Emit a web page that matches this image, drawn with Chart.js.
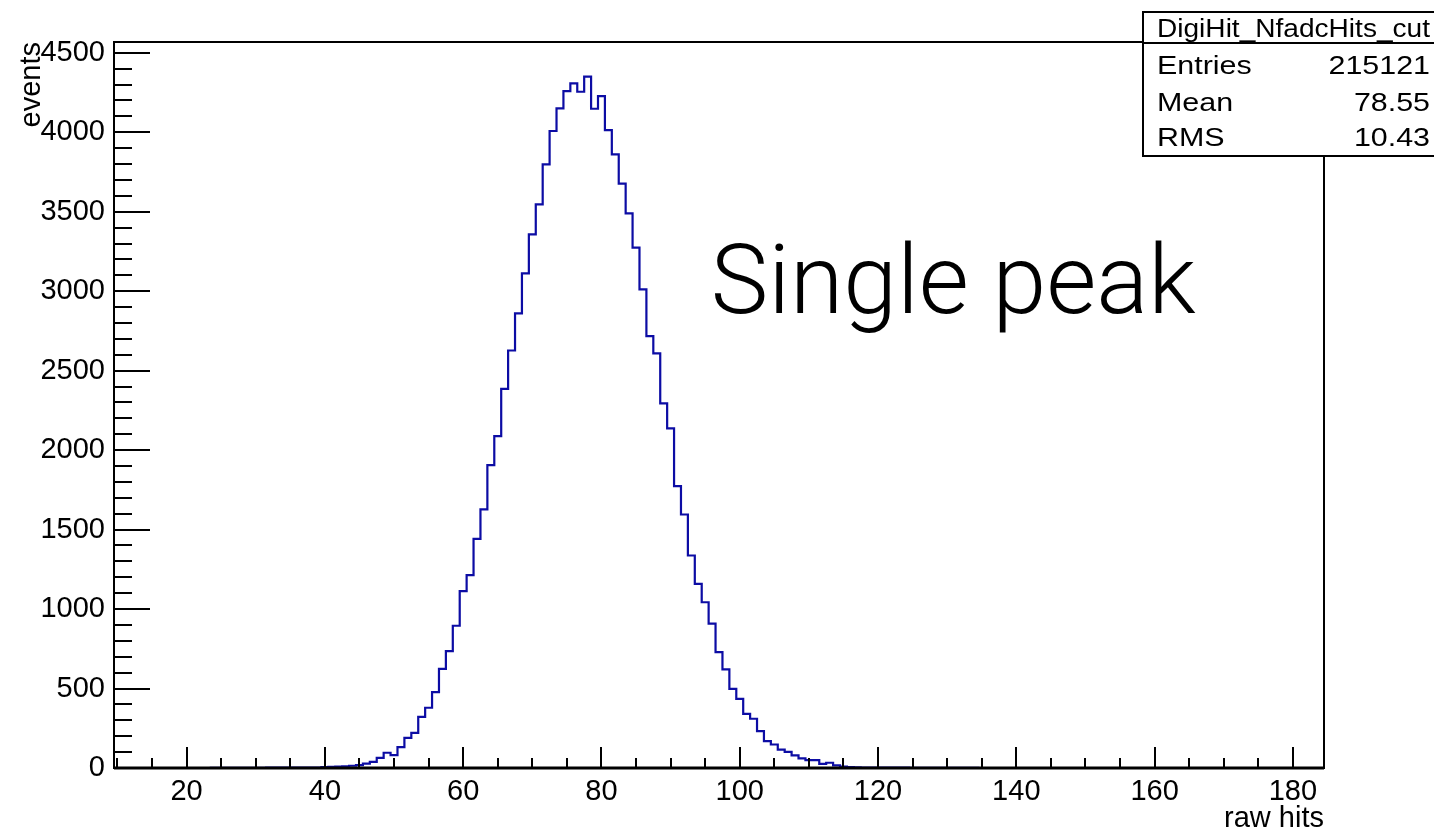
<!DOCTYPE html>
<html>
<head>
<meta charset="utf-8">
<script src="https://cdn.jsdelivr.net/npm/chart.js@4"></script>
<style>
  html, body { margin: 0; padding: 0; background: #fff; }
  #wrap { width: 1434px; height: 833px; position: relative; }
</style>
</head>
<body>
<div id="wrap"><canvas id="histo"></canvas></div>
<script>
// DigiHit_NfadcHits_cut, 1-wide bins, first bin starts at 9.5
const binStart = 9.5;
const binWidth = 1;
const counts = [
  0, 0, 0, 0, 0, 0, 0, 0, 0, 0, 0, 0, 0, 0, 0,            // 10-24
  1, 1, 1, 1, 1, 1, 1, 1,                                 // 25-32
  2, 2, 2, 2, 2, 3, 3, 3,                                 // 33-40
  5, 7, 9, 11, 14, 18, 28, 39, 64,                        // 41-49
  96, 81, 131, 190, 221, 322, 379, 477, 624, 735,         // 50-59
  895, 1113, 1213, 1442, 1627, 1906, 2088, 2386, 2627, 2860,
  3112, 3357, 3546, 3798, 4008, 4150, 4259, 4308, 4255, 4350,
  4148, 4228, 4014, 3861, 3677, 3490, 3274, 3011, 2717, 2609,
  2294, 2137, 1774, 1595, 1337, 1159, 1043, 909, 729, 620,
  498, 435, 341, 310, 232, 169, 148, 116, 102, 79,
  60, 49, 49, 26, 33, 16, 9, 6, 4, 3,
  3, 2, 2, 2, 2, 2, 1, 1, 1, 1,
  1, 1, 1, 1, 1, 1, 0, 0, 0, 0,                           // 130-139
  0, 0, 0, 0, 0, 0, 0, 0, 0, 0, 0, 0, 0, 0, 0,            // 140-154
  0, 0, 0, 0, 0, 0, 0, 0, 0, 0, 0, 0, 0, 0, 0,            // 155-169
  0, 0, 0, 0, 0, 0, 0, 0, 0, 0, 0, 0, 0, 0, 0             // 170-184
];
const xRange = [9.5, 184.5];
const yRange = [0, 4568];
const xTicks = [20, 40, 60, 80, 100, 120, 140, 160, 180];
const yTicks = [0, 500, 1000, 1500, 2000, 2500, 3000, 3500, 4000, 4500];
const xMinorStep = 5;
const yMinorStep = 100;
const xLabel = "raw hits";
const yLabel = "events";
const statsTitle = "DigiHit_NfadcHits_cut";
const statsNames = ["Entries", "Mean", "RMS"];
const statsValues = ["215121", "78.55", "10.43"];
const note = { text: "Single peak", x: 95.8, y: 2860 };

const FONT = "'Liberation Sans', Arial, Helvetica, sans-serif";

// outline points at the low edge of every bin (+ closing edge)
const points = counts.map((c, i) => ({ x: binStart + i * binWidth, y: c }));
points.push({ x: binStart + counts.length * binWidth, y: counts[counts.length - 1] });

// ROOT style frame, inward ticks, stats box, text note
const rootStyle = {
  id: "rootStyle",
  afterDatasetsDraw(chart) {
    const { ctx, chartArea: a, scales: { x, y } } = chart;
    ctx.save();
    ctx.strokeStyle = "#000";
    ctx.lineWidth = 2;
    ctx.strokeRect(a.left, a.top, a.right - a.left, a.bottom - a.top);
    ctx.lineWidth = 3;
    ctx.beginPath();
    ctx.moveTo(a.left, a.bottom);
    ctx.lineTo(a.right, a.bottom);
    ctx.stroke();

    ctx.lineWidth = 2;
    for (let v = 0; v <= y.max; v += yMinorStep) {
      const py = Math.round(y.getPixelForValue(v));
      const len = v % 500 === 0 ? 36 : 18;
      ctx.beginPath();
      ctx.moveTo(a.left, py);
      ctx.lineTo(a.left + len, py);
      ctx.stroke();
    }
    for (let v = 10; v <= x.max; v += xMinorStep) {
      const px = Math.round(x.getPixelForValue(v));
      const len = v % 20 === 0 ? 21 : 10;
      ctx.beginPath();
      ctx.moveTo(px, a.bottom);
      ctx.lineTo(px, a.bottom - len);
      ctx.stroke();
    }
    ctx.restore();
  },
  afterDraw(chart) {
    const { ctx, scales: { x, y } } = chart;
    ctx.save();

    // stats box
    ctx.fillStyle = "#fff";
    ctx.fillRect(1143, 12, 300, 144);
    ctx.strokeStyle = "#000";
    ctx.lineWidth = 2;
    ctx.strokeRect(1143, 12, 300, 144);
    ctx.beginPath();
    ctx.moveTo(1143, 43);
    ctx.lineTo(1434, 43);
    ctx.stroke();

    ctx.fillStyle = "#000";
    ctx.font = "26px " + FONT;
    const put = (txt, px, py, align, sx) => {
      ctx.save();
      ctx.translate(px, py);
      ctx.scale(sx, 1);
      ctx.textAlign = align;
      ctx.textBaseline = "alphabetic";
      ctx.fillText(txt, 0, 0);
      ctx.restore();
    };
    // title squeezed into the visible part of the box
    const tw = ctx.measureText(statsTitle).width;
    put(statsTitle, 1157, 37, "left", 273 / tw);
    const baselines = [73.5, 110.5, 146];
    statsNames.forEach((n, i) => {
      put(n, 1157, baselines[i], "left", 1.17);
      put(statsValues[i], 1430, baselines[i], "right", 1.17);
    });

    // big note
    ctx.font = "300 100px Roboto, " + FONT;
    const w = ctx.measureText(note.text).width;
    const size = 100 * 485 / w;
    ctx.font = "300 " + size.toFixed(1) + "px Roboto, " + FONT;
    ctx.textAlign = "left";
    ctx.textBaseline = "alphabetic";
    ctx.fillText(note.text, x.getPixelForValue(note.x), y.getPixelForValue(note.y));
    ctx.restore();
  }
};

new Chart(document.getElementById("histo").getContext("2d"), {
  type: "line",
  data: {
    datasets: [{
      label: statsTitle,
      data: points,
      stepped: "after",
      borderColor: "#0c0ca4",
      borderWidth: 2.2,
      pointRadius: 0,
      fill: false,
      tension: 0
    }]
  },
  options: {
    responsive: true,
    maintainAspectRatio: false,
    animation: false,
    layout: { padding: { top: 42, right: 110, left: 0, bottom: 0 } },
    plugins: {
      legend: { display: false },
      tooltip: { enabled: false }
    },
    scales: {
      x: {
        type: "linear",
        min: xRange[0],
        max: xRange[1],
        grid: { display: false, drawTicks: false },
        border: { display: false },
        afterBuildTicks: s => { s.ticks = xTicks.map(v => ({ value: v })); },
        afterFit: s => { s.height = 65; },
        ticks: {
          color: "#000",
          font: { family: FONT, size: 29 },
          padding: 7,
          autoSkip: false,
          maxRotation: 0,
          callback: v => String(v)
        },
        title: {
          display: true,
          text: xLabel,
          align: "end",
          color: "#000",
          font: { family: FONT, size: 29, lineHeight: 1 },
          padding: 0
        }
      },
      y: {
        type: "linear",
        min: yRange[0],
        max: yRange[1],
        grid: { display: false, drawTicks: false },
        border: { display: false },
        afterBuildTicks: s => { s.ticks = yTicks.map(v => ({ value: v })); },
        afterFit: s => { s.width = 114; },
        ticks: {
          color: "#000",
          font: { family: FONT, size: 29 },
          padding: 9,
          callback: v => String(v)
        },
        title: {
          display: true,
          text: yLabel,
          align: "end",
          color: "#000",
          font: { family: FONT, size: 29, lineHeight: 1 },
          padding: { top: 17, bottom: 0 }
        }
      }
    }
  },
  plugins: [rootStyle]
});
</script>
</body>
</html>
